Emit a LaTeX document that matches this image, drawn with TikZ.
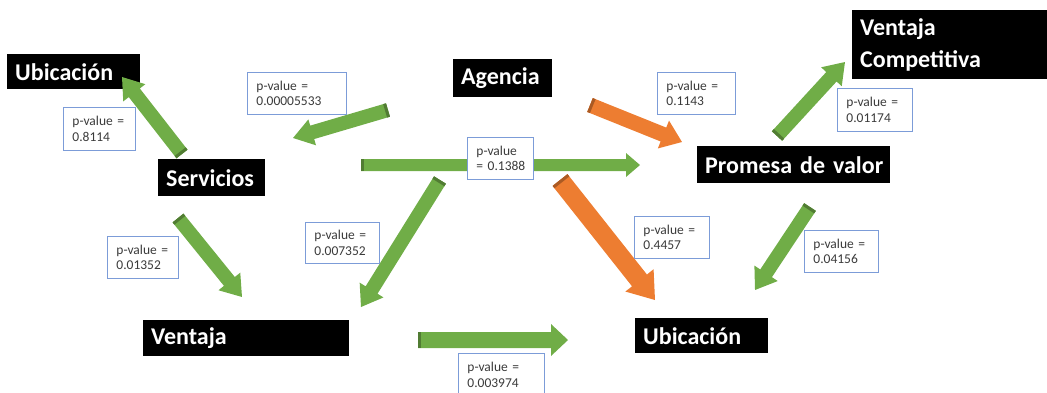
\documentclass[tikz,border=0pt]{standalone}
\usepackage{fontspec}
\setmainfont{Carlito}[WordSpace=0.7]
\usetikzlibrary{calc}
\definecolor{agreen}{HTML}{70AD47}
\definecolor{aorange}{HTML}{ED7D31}
\definecolor{pvborder}{HTML}{7C9CD8}
\definecolor{pvtext}{HTML}{3B3B3B}
\newcommand\blockarrow[6]{% tail, tip, shaft, head width, head length, colour
  \path let \p1=($(#2)-(#1)$), \n1={atan2(\y1,\x1)}, \n2={veclen(\x1,\y1)} in
    \pgfextra{\xdef\baang{\n1}\xdef\balen{\n2}};
  \begin{scope}[shift={(#1)}, rotate=\baang, x=1pt, y=1pt]
    \fill[#6] (0,-#3/2) -- ({\balen-#5},-#3/2) -- ({\balen-#5},-#4/2) -- (\balen,0)
      -- ({\balen-#5},#4/2) -- ({\balen-#5},#3/2) -- (0,#3/2) -- cycle;
    \fill[#6!72!black] (0,-#3/2) rectangle (3,#3/2);
  \end{scope}}
\newcommand\oneline[1]{\mbox{#1}}
\tikzset{
  bbox/.style={fill=black, text=white,
    font=\bfseries\fontsize{24}{32}\selectfont,
    anchor=north west, inner xsep=8pt, inner ysep=0pt, align=left},
  pv/.style={draw=pvborder, line width=0.9pt, fill=white, text=pvtext,
    font=\fontsize{13.5}{15.5}\selectfont,
    anchor=north west, align=left, inner xsep=9pt, inner ysep=0pt},
}
\begin{document}
\begin{tikzpicture}[x=1pt, y=-1pt]
\useasboundingbox (0,0) rectangle (1047,392);
% black boxes
\node[bbox, minimum width=133pt, minimum height=35pt, text width=117pt] (ub1) at (7,54) {\oneline{Ubicación}};
\node[bbox, minimum width=107pt, minimum height=37pt, text width=91pt] (serv) at (158,159) {\oneline{Servicios}};
\node[bbox, minimum width=99pt, minimum height=38pt, text width=83pt] (agen) at (453,59) {\oneline{Agencia}};
\node[bbox, minimum width=200pt, minimum height=69pt, text width=184pt] (vcomp) at (852,10) {\oneline{Ventaja}\\\oneline{Competitiva}};
\node[bbox, minimum width=193pt, minimum height=37pt, text width=177pt] (prom) at (697,146) {\oneline{Promesa de valor}};
\node[bbox, minimum width=206pt, minimum height=36pt, text width=190pt] (vent) at (143,320) {\oneline{Ventaja}};
\node[bbox, minimum width=133pt, minimum height=35pt, text width=117pt] (ub2) at (635,318) {\oneline{Ubicación}};
% arrow ends
\coordinate (a1t) at (182,154); \coordinate (a1h) at (122,77);
\coordinate (a2t) at (388,110); \coordinate (a2h) at (293,138);
\coordinate (a3t) at (361,165); \coordinate (a3h) at (640,165);
\coordinate (a4t) at (590,105); \coordinate (a4h) at (682,142);
\coordinate (a5t) at (777,136); \coordinate (a5h) at (845,62);
\coordinate (a6t) at (178,218); \coordinate (a6h) at (242,297);
\coordinate (a7t) at (440,180); \coordinate (a7h) at (361,307);
\coordinate (a8t) at (560,180); \coordinate (a8h) at (655,300);
\coordinate (a9t) at (810,207); \coordinate (a9h) at (755,290);
\coordinate (a10t) at (418,340); \coordinate (a10h) at (568,340);
% arrows
\blockarrow{a1t}{a1h}{14}{28}{20}{agreen}
\blockarrow{a2t}{a2h}{14}{27}{20}{agreen}
\blockarrow{a3t}{a3h}{12}{24}{14}{agreen}
\blockarrow{a4t}{a4h}{15}{30}{20}{aorange}
\blockarrow{a5t}{a5h}{14}{28}{20}{agreen}
\blockarrow{a6t}{a6h}{14}{28}{20}{agreen}
\blockarrow{a7t}{a7h}{14}{28}{20}{agreen}
\blockarrow{a8t}{a8h}{19}{36}{25}{aorange}
\blockarrow{a9t}{a9h}{14}{28}{20}{agreen}
\blockarrow{a10t}{a10h}{16}{32}{17}{agreen}
% p-value boxes
\node[pv, minimum width=99pt, minimum height=42pt, text width=81pt] (pv1) at (247,72) {\oneline{p-value =}\\\oneline{0.00005533}};
\node[pv, minimum width=72pt, minimum height=43pt, text width=54pt] (pv2) at (63,107) {\oneline{p-value =}\\\oneline{0.8114}};
\node[pv, minimum width=66pt, minimum height=42pt, text width=48pt] (pv3) at (467,137) {\oneline{p-value}\\\oneline{= 0.1388}};
\node[pv, minimum width=78pt, minimum height=42pt, text width=60pt] (pv4) at (657,72) {\oneline{p-value =}\\\oneline{0.1143}};
\node[pv, minimum width=75pt, minimum height=43pt, text width=57pt] (pv5) at (837,88) {\oneline{p-value =}\\\oneline{0.01174}};
\node[pv, minimum width=71pt, minimum height=42pt, text width=53pt] (pv6) at (107,236) {\oneline{p-value =}\\\oneline{0.01352}};
\node[pv, minimum width=74pt, minimum height=41pt, text width=56pt] (pv7) at (305,222) {\oneline{p-value =}\\\oneline{0.007352}};
\node[pv, minimum width=86pt, minimum height=43pt, text width=68pt] (pv8) at (458,353) {\oneline{p-value =}\\\oneline{0.003974}};
\node[pv, minimum width=75pt, minimum height=42pt, text width=57pt] (pv9) at (634,216) {\oneline{p-value =}\\\oneline{0.4457}};
\node[pv, minimum width=74pt, minimum height=42pt, text width=56pt] (pv10) at (804,230) {\oneline{p-value =}\\\oneline{0.04156}};
\end{tikzpicture}
\end{document}
